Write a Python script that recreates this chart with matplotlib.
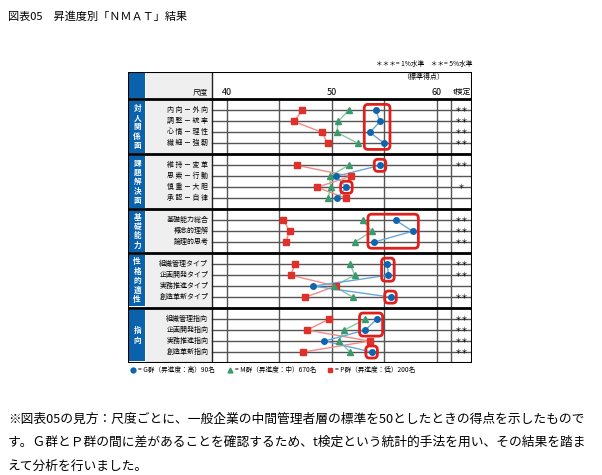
import matplotlib
matplotlib.use("Agg")
import matplotlib.pyplot as plt
from matplotlib.patches import Rectangle, FancyBboxPatch
from matplotlib.lines import Line2D

plt.rcParams['font.family'] = ['Noto Sans CJK JP', 'DejaVu Sans']

# sections and scales
sections = ["対人関係面", "課題解決面", "基礎能力", "性格的適性", "指向"]
section_sizes = [4, 4, 3, 4, 4]
scales = ["内 向 － 外 向", "調 整 － 統 率", "心 情 － 理 性", "繊 細 － 強 靭",
          "維 持 － 変 革", "思 索 － 行 動", "慎 重 － 大 胆", "承 認 － 自 律",
          "基礎能力総合", "概念的理解", "論理的思考",
          "組織管理タイプ", "企画開発タイプ", "実務推進タイプ", "創造革新タイプ",
          "組織管理指向", "企画開発指向", "実務推進指向", "創造革新指向"]

# standard scores
g_scores = [54.2, 54.6, 53.65, 55.0,
            54.6, 50.4, 51.4, 50.5,
            56.1, 57.7, 54.0,
            55.3, 55.4, 48.25, 55.6,
            54.3, 53.2, 49.3, 53.8]
m_scores = [51.6, 50.6, 50.5, 52.5,
            51.6, 49.8, 49.9, 49.65,
            52.95, 53.8, 52.2,
            51.75, 52.2, 50.2, 52.0,
            53.2, 51.2, 50.7, 51.75]
p_scores = [47.2, 46.4, 49.1, 49.6,
            46.7, 51.8, 48.6, 51.4,
            45.4, 46.0, 45.6,
            46.5, 46.1, 50.4, 47.5,
            49.75, 47.65, 53.6, 47.3]
t_test = ["＊＊", "＊＊", "＊＊", "＊＊",
          "＊＊", "", "＊", "",
          "＊＊", "＊＊", "＊＊",
          "＊＊", "＊＊", "", "＊＊",
          "＊＊", "＊＊", "＊＊", "＊＊"]
# rows of the G group that are highlighted (first, last)
highlights = [(0, 3), (4, 4), (6, 6), (8, 10), (11, 12), (14, 14), (15, 16), (18, 18)]
ticks = [40, 50, 60]
grid_x = [40, 45, 50, 55, 60]

fig = plt.figure(figsize=(6.02, 4.75), dpi=100)
W, H = 602, 475
ax = fig.add_axes([128 / W, 1 - 363 / H, 344 / W, 291 / H])
x_min, x_max = 30.6, 63.36
x_blue, x_lab, x_t = 32.35, 38.6, 61.36
ax.set_xlim(x_min, x_max)
head = 2.5
total = head + sum(n + 1 for n in section_sizes)
ax.set_ylim(total, 0)
ax.axis('off')

# row positions
row_y = []
sec_bounds = []
y = head
for n in section_sizes:
    sec_bounds.append((y, y + n + 1))
    row_y += [y + 1 + i for i in range(n)]
    y += n + 1

grid_c = '#555555'
blue_c = '#0a62ad'

# header
ax.add_patch(Rectangle((x_blue, 0), x_lab - x_blue, head, fc='#efefef', ec='none'))
ax.add_patch(Rectangle((x_min + 0.1, 0.1), x_blue - x_min - 0.2, head - 0.2, fc=blue_c, ec='none'))
ax.text(x_lab - 0.35, 1.83, "尺度", ha='right', va='center', fontsize=5.5)
for t in ticks:
    ax.text(t, 1.83, str(t), ha='center', va='center', fontsize=6.5)
ax.text(62.4, 1.83, "t検定", ha='center', va='center', fontsize=5.5)
ax.text(58.7, 0.5, "（標準得点）", ha='center', va='center', fontsize=5)

# sections
for (y0, y1), name in zip(sec_bounds, sections):
    ax.add_patch(Rectangle((x_blue, y0), x_lab - x_blue, y1 - y0, fc='#efefef', ec='none'))
    ax.add_patch(Rectangle((x_min + 0.1, y0 + 0.15), x_blue - x_min - 0.2, y1 - y0 - 0.3,
                           fc=blue_c, ec='none'))
    ax.text((x_min + x_blue) / 2, (y0 + y1) / 2, "\n".join(name), ha='center', va='center',
            fontsize=5.5, color='white', fontweight='bold', linespacing=1.05)
    for gx in grid_x:
        ax.plot([gx, gx], [y0, y1], color=grid_c, lw=1, zorder=1)
    ax.plot([x_t, x_t], [y0, y1], color=grid_c, lw=1, zorder=1)

for ry, lab, tt in zip(row_y, scales, t_test):
    ax.plot([x_lab, x_max], [ry, ry], color=grid_c, lw=1, zorder=1)
    ax.text(x_lab - 0.35, ry, lab, ha='right', va='center', fontsize=5)
    if tt:
        ax.text(62.4, ry, tt, ha='center', va='center', fontsize=5)

# frame lines
ax.plot([x_lab, x_lab], [0, total], color='#222222', lw=1, zorder=2)
for y0, y1 in sec_bounds:
    ax.plot([x_min, x_max], [y0, y0], color='black', lw=2, zorder=3, solid_capstyle='butt')
ax.add_patch(Rectangle((x_min, 0), x_max - x_min, total, fc='none', ec='black', lw=1.5, zorder=3))

# series
series = [(p_scores, 's', '#e0302a', '#f28b86'),
          (m_scores, '^', '#3b9a6c', '#8cc7a6'),
          (g_scores, 'o', '#0f64ae', '#6aa6da')]
for vals, mk, mc, lc in series:
    start = 0
    for n in section_sizes:
        ys = row_y[start:start + n]
        xs = vals[start:start + n]
        ax.plot(xs, ys, color=lc, lw=1, zorder=4)
        ax.plot(xs, ys, ls='none', marker=mk, ms=4, color=mc, zorder=5)
        start += n

# highlight boxes around G group
for a, b in highlights:
    xs = g_scores[a:b + 1]
    x0, x1 = min(xs) - 0.55, max(xs) + 0.55
    y0, y1 = row_y[a] - 0.55, row_y[b] + 0.55
    ax.add_patch(FancyBboxPatch((x0, y0), x1 - x0, y1 - y0,
                                boxstyle='round,pad=0,rounding_size=0.35',
                                fc='none', ec='#e0201c', lw=2, zorder=6))

# legend
legend_items = [('o', '#0f64ae', "= G群（昇進度：高）90名", 133),
                ('^', '#3b9a6c', "= M群（昇進度：中）670名", 230),
                ('s', '#e0302a', "= P群（昇進度：低）200名", 330)]
for mk, c, txt, px in legend_items:
    fig.add_artist(Line2D([px / W], [1 - 370 / H], marker=mk, color=c, ms=3.5,
                          transform=fig.transFigure))
    fig.text((px + 5) / W, 1 - 370 / H, txt, fontsize=4.8, va='center', ha='left')

fig.text(472 / W, 1 - 64 / H, "＊＊＊= 1%水準　＊＊= 5%水準", fontsize=4.8,
         ha='right', va='center')

fig.text(8 / W, 1 - 17 / H, "図表05　昇進度別「ＮＭＡＴ」結果", fontsize=8,
         ha='left', va='center')

notes = ["※図表05の見方：尺度ごとに、一般企業の中間管理者層の標準を50としたときの得点を示したもので",
         "す。Ｇ群とＰ群の間に差があることを確認するため、t検定という統計的手法を用い、その結果を踏ま",
         "えて分析を行いました。"]
for i, line in enumerate(notes):
    fig.text(8 / W, 1 - (419 + 23.5 * i) / H, line, fontsize=9.2, ha='left', va='center')

fig.savefig("out.png", dpi=100)
